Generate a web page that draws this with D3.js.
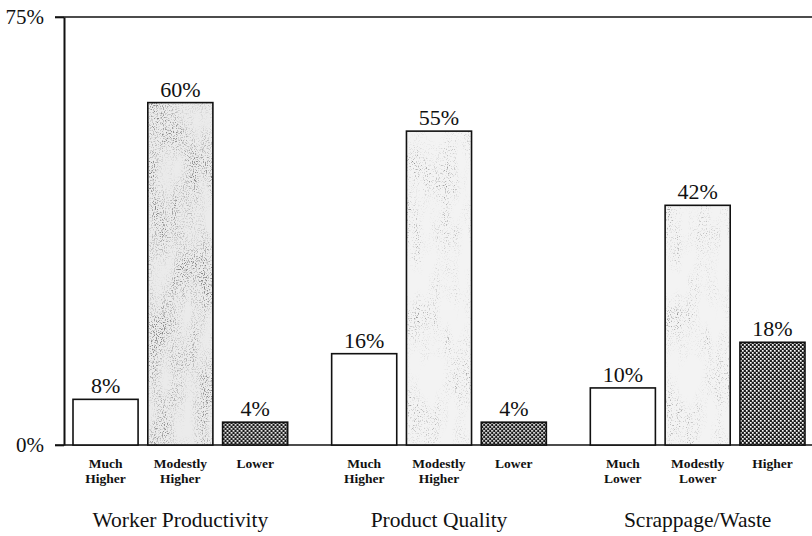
<!DOCTYPE html>
<html>
<head>
<meta charset="utf-8">
<script src="https://cdn.jsdelivr.net/npm/d3@7"></script>
<style>
  html, body { margin: 0; padding: 0; background: #fff; }
  svg { display: block; font-family: "Liberation Serif", "Times New Roman", serif; }
</style>
</head>
<body>
<svg id="chart" width="812" height="536"></svg>
<script>
// Survey results: share of respondents per outcome, by measure
const groups = ["Worker Productivity", "Product Quality", "Scrappage/Waste"];
const categoryLabels = [
  ["Much Higher", "Modestly Higher", "Lower"],
  ["Much Higher", "Modestly Higher", "Lower"],
  ["Much Lower", "Modestly Lower", "Higher"]
];
const values = [
  [8, 60, 4],
  [16, 55, 4],
  [10, 42, 18]
];
const yTicks = [0, 75];

const svg = d3.select("#chart");
const defs = svg.append("defs");

// Stippled grey fill: fine speckles, softly thinned by a coarse mask
function speckle(id, base, gain, bias, maskGain, maskBias, seed) {
  const f = defs.append("filter").attr("id", id)
    .attr("filterUnits", "objectBoundingBox")
    .attr("x", 0).attr("y", 0).attr("width", 1).attr("height", 1);
  f.append("feFlood").attr("flood-color", base).attr("result", "bg");
  f.append("feTurbulence").attr("type", "fractalNoise")
    .attr("baseFrequency", "0.9 0.75").attr("numOctaves", 2)
    .attr("seed", seed).attr("result", "fine");
  f.append("feColorMatrix").attr("in", "fine").attr("type", "matrix")
    .attr("values", `0 0 0 0 0.25  0 0 0 0 0.25  0 0 0 0 0.25  ${gain} 0 0 0 ${bias}`)
    .attr("result", "dots");
  f.append("feTurbulence").attr("type", "fractalNoise")
    .attr("baseFrequency", "0.06 0.02").attr("numOctaves", 2)
    .attr("seed", seed + 11).attr("result", "coarse");
  f.append("feColorMatrix").attr("in", "coarse").attr("type", "matrix")
    .attr("values", `0 0 0 0 0  0 0 0 0 0  0 0 0 0 0  ${maskGain} 0 0 0 ${maskBias}`)
    .attr("result", "mask");
  f.append("feComposite").attr("in", "dots").attr("in2", "mask")
    .attr("operator", "in").attr("result", "clustered");
  const m = f.append("feMerge");
  m.append("feMergeNode").attr("in", "bg");
  m.append("feMergeNode").attr("in", "clustered");
}
speckle("speckleDark", "#ebebeb", 5.0, -2.5, 2.2, -0.55, 4);
speckle("speckleLight", "#f3f3f3", 4.5, -2.5, 2.2, -0.8, 9);

// Dense crosshatch for the third outcome
const hatch = defs.append("pattern").attr("id", "hatch")
  .attr("patternUnits", "userSpaceOnUse").attr("width", 4).attr("height", 4);
hatch.append("rect").attr("width", 4).attr("height", 4).attr("fill", "#1a1a1a");
hatch.append("rect").attr("x", 0).attr("y", 0).attr("width", 1.7).attr("height", 1.7).attr("fill", "#fff");
hatch.append("rect").attr("x", 2).attr("y", 2).attr("width", 1.7).attr("height", 1.7).attr("fill", "#fff");

const y = d3.scaleLinear().domain([0, 75]).range([445, 17]);
const x0 = d3.scaleBand().domain(groups).range([73, 805]).paddingInner(0.17).paddingOuter(0);
const x1 = d3.scaleBand().domain([0, 1, 2]).range([0, x0.bandwidth()]).paddingInner(0.13).paddingOuter(0);

// Frame lines at 0% and 75%
svg.append("g").selectAll("line").data(yTicks).join("line")
  .attr("x1", 55).attr("x2", 812)
  .attr("y1", d => y(d)).attr("y2", d => y(d))
  .attr("stroke", "#111").attr("stroke-width", 1.6);

// Left axis
const axis = svg.append("g").attr("transform", "translate(64,0)")
  .call(d3.axisLeft(y).tickValues(yTicks).tickFormat(d => d + "%")
    .tickSize(9).tickSizeOuter(0).tickPadding(11));
axis.select(".domain").attr("stroke", "#111").attr("stroke-width", 2);
axis.selectAll(".tick line").attr("stroke", "#111").attr("stroke-width", 1.6);
axis.selectAll(".tick text")
  .attr("font-family", "Liberation Serif, Times New Roman, serif")
  .attr("font-size", 21).attr("fill", "#111");

// Bars
const rows = groups.flatMap((g, gi) => values[gi].map((v, ci) => ({
  group: g, gi, ci, value: v, label: categoryLabels[gi][ci]
})));

const bars = svg.append("g").selectAll("g").data(rows).join("g")
  .attr("transform", d => `translate(${x0(d.group) + x1(d.ci)},0)`);

bars.append("rect")
  .attr("x", 0).attr("width", x1.bandwidth())
  .attr("y", d => y(d.value)).attr("height", d => y(0) - y(d.value))
  .attr("fill", d => d.ci === 2 ? "url(#hatch)" : "#fff")
  .attr("filter", d => d.ci === 1 ? (d.gi === 0 ? "url(#speckleDark)" : "url(#speckleLight)") : null);

bars.append("rect")
  .attr("x", 0).attr("width", x1.bandwidth())
  .attr("y", d => y(d.value)).attr("height", d => y(0) - y(d.value))
  .attr("fill", "none").attr("stroke", "#111").attr("stroke-width", 1.6);

// Value labels
bars.append("text")
  .attr("x", x1.bandwidth() / 2).attr("y", d => y(d.value) - 6)
  .attr("text-anchor", "middle").attr("font-size", 22).attr("fill", "#111")
  .text(d => d.value + "%");

// Category labels (two lines)
const cat = bars.append("text")
  .attr("text-anchor", "middle").attr("font-size", 13.5)
  .attr("font-weight", "bold").attr("fill", "#111");
cat.each(function(d) {
  const words = d.label.split(" ");
  d3.select(this).selectAll("tspan").data(words).join("tspan")
    .attr("x", x1.bandwidth() / 2)
    .attr("y", (w, i) => y(0) + 23 + i * 15)
    .text(w => w);
});

// Group labels
svg.append("g").selectAll("text").data(groups).join("text")
  .attr("x", d => x0(d) + x0.bandwidth() / 2)
  .attr("y", y(0) + 82)
  .attr("text-anchor", "middle").attr("font-size", 21.5).attr("fill", "#111")
  .text(d => d);
</script>
</body>
</html>
